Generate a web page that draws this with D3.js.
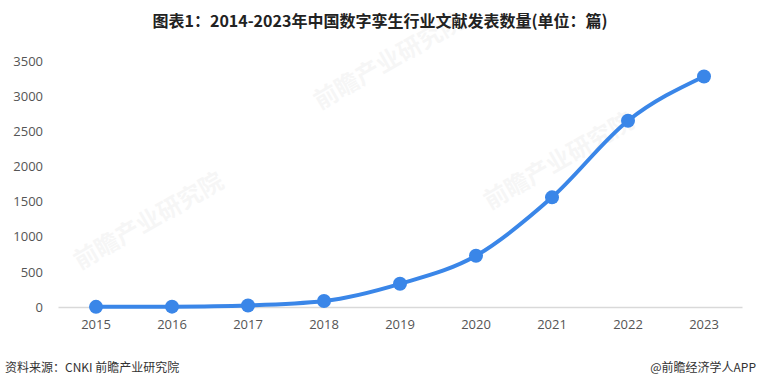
<!DOCTYPE html>
<html>
<head>
<meta charset="utf-8">
<script src="https://cdn.jsdelivr.net/npm/d3@7"></script>
<style>
  body { margin: 0; background: #fff; }
  svg { display: block; font-family: "Noto Sans CJK SC", "Noto Sans", sans-serif; }
</style>
</head>
<body>
<div id="chart"></div>
<script>
// data
const years = ["2015", "2016", "2017", "2018", "2019", "2020", "2021", "2022", "2023"]
const papers = [2, 5, 22, 85, 330, 730, 1560, 2650, 3280]
const yTicks = [0, 500, 1000, 1500, 2000, 2500, 3000, 3500]

const W = 760, H = 388
const margin = {top: 61, right: 18, bottom: 81, left: 58}
const width = W - margin.left - margin.right,
      height = H - margin.top - margin.bottom

const svg = d3.select("#chart")
    .append("svg")
    .attr("width", W)
    .attr("height", H)

// faint watermarks
const marks = [[320, 110], [490, 210], [80, 270]]
svg.selectAll(".wm")
    .data(marks)
    .join("text")
    .attr("class", "wm")
    .attr("transform", d => `translate(${d[0]}, ${d[1]}) rotate(-30)`)
    .attr("font-size", 24)
    .attr("font-weight", "bold")
    .attr("fill", "#000")
    .attr("opacity", 0.03)
    .text("前瞻产业研究院")

// title
svg.append("text")
    .attr("x", W / 2)
    .attr("y", 27)
    .attr("text-anchor", "middle")
    .attr("font-size", 16)
    .attr("font-weight", "bold")
    .attr("fill", "#222")
    .text("图表1：2014-2023年中国数字孪生行业文献发表数量(单位：篇)")

const g = svg.append("g")
    .attr("transform", `translate(${margin.left}, ${margin.top})`)

const x = d3.scaleBand()
    .domain(years)
    .range([0, width])

const y = d3.scaleLinear()
    .domain([0, 3500])
    .range([height, 0])

// x axis
const xAxis = g.append("g")
    .attr("transform", `translate(0, ${height})`)
    .call(d3.axisBottom(x).tickSize(0).tickPadding(13))
xAxis.select(".domain").attr("stroke", "#d9d9d9").attr("stroke-width", 1.5)
xAxis.selectAll("text")
    .attr("font-size", 13)
    .attr("fill", "#555")
    .attr("font-family", "Open Sans, Noto Sans, sans-serif")

// y axis
const yAxis = g.append("g")
    .call(d3.axisLeft(y).tickValues(yTicks).tickFormat(d3.format("d")).tickSize(0).tickPadding(15))
yAxis.select(".domain").remove()
yAxis.selectAll("text")
    .attr("font-size", 13)
    .attr("fill", "#555")
    .attr("font-family", "Open Sans, Noto Sans, sans-serif")

const cx = d => x(d) + x.bandwidth() / 2

// line
g.append("path")
    .datum(papers)
    .attr("fill", "none")
    .attr("stroke", "#3a86e8")
    .attr("stroke-width", 4)
    .attr("d", d3.line()
        .curve(d3.curveMonotoneX)
        .x((d, i) => cx(years[i]))
        .y(d => y(d)))

// points
g.selectAll(".pt")
    .data(papers)
    .join("circle")
    .attr("class", "pt")
    .attr("cx", (d, i) => cx(years[i]))
    .attr("cy", d => y(d))
    .attr("r", 7)
    .attr("fill", "#3a86e8")

// footer
svg.append("text")
    .attr("x", 5)
    .attr("y", 372)
    .attr("font-size", 12)
    .attr("fill", "#333")
    .text("资料来源：CNKI 前瞻产业研究院")

svg.append("text")
    .attr("x", 756)
    .attr("y", 372)
    .attr("text-anchor", "end")
    .attr("font-size", 12)
    .attr("fill", "#333")
    .text("@前瞻经济学人APP")
</script>
</body>
</html>
